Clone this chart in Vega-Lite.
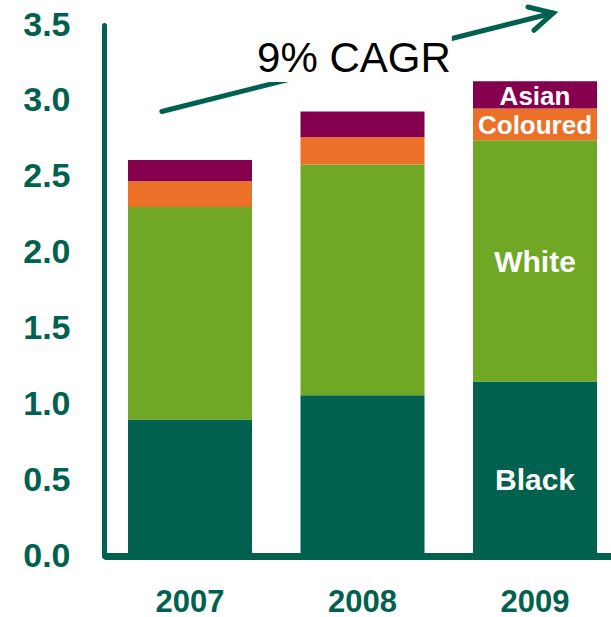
{
  "$schema": "https://vega.github.io/schema/vega-lite/v6.json",
  "width": 507,
  "height": 531,
  "autosize": {"type": "none"},
  "padding": {"left": 104, "top": 25, "right": 0, "bottom": 61},
  "background": "white",
  "config": {"view": {"stroke": null}, "font": "Liberation Sans"},
  "datasets": {
    "pop": [
      {"Year": "2007", "Race": "Black", "Value": 0.90, "Order": 1},
      {"Year": "2007", "Race": "White", "Value": 1.40, "Order": 2},
      {"Year": "2007", "Race": "Coloured", "Value": 0.17, "Order": 3},
      {"Year": "2007", "Race": "Asian", "Value": 0.14, "Order": 4},
      {"Year": "2008", "Race": "Black", "Value": 1.06, "Order": 1},
      {"Year": "2008", "Race": "White", "Value": 1.52, "Order": 2},
      {"Year": "2008", "Race": "Coloured", "Value": 0.18, "Order": 3},
      {"Year": "2008", "Race": "Asian", "Value": 0.17, "Order": 4},
      {"Year": "2009", "Race": "Black", "Value": 1.15, "Order": 1},
      {"Year": "2009", "Race": "White", "Value": 1.59, "Order": 2},
      {"Year": "2009", "Race": "Coloured", "Value": 0.21, "Order": 3},
      {"Year": "2009", "Race": "Asian", "Value": 0.18, "Order": 4}
    ],
    "arrow": [{"x": 0.114, "y": 2.93, "x2": 0.886, "y2": 3.579}],
    "note": [{"x": 0.493, "y": 3.276, "label": "9% CAGR", "bx": 0.298, "bx2": 0.686, "by": 3.125, "by2": 3.428}]
  },
  "layer": [
    {
      "data": {"name": "pop"},
      "mark": {"type": "bar"},
      "encoding": {
        "x": {
          "field": "Year", "type": "nominal", "sort": null,
          "scale": {"type": "band", "domain": ["2007", "2008", "2009"], "paddingInner": 0.281, "paddingOuter": 0.11, "align": 0.632},
          "axis": {
            "title": null, "labelAngle": 0, "labelFont": "Liberation Sans",
            "labelFontWeight": "bold", "labelFontSize": 31, "labelColor": "#00614f",
            "labelPadding": 31, "ticks": false, "tickSize": 0, "grid": false,
            "domainColor": "#00614f", "domainWidth": 7, "zindex": 1
          }
        },
        "y": {
          "field": "Value", "type": "quantitative", "stack": "zero",
          "scale": {"domain": [0, 3.5], "nice": false},
          "axis": {
            "title": null, "values": [0, 0.5, 1, 1.5, 2, 2.5, 3, 3.5], "format": ".1f",
            "labelFont": "Liberation Sans", "labelFontSize": 34, "labelFontWeight": "bold",
            "labelColor": "#00614f", "labelPadding": 34, "ticks": false, "tickSize": 0,
            "grid": false, "domainColor": "#00614f", "domainWidth": 5, "domainCap": "round"
          }
        },
        "color": {
          "field": "Race", "type": "nominal",
          "scale": {"domain": ["Black", "White", "Coloured", "Asian"], "range": ["#00614f", "#70a826", "#eb7128", "#84004f"]},
          "legend": null
        },
        "order": {"field": "Order", "type": "quantitative"}
      }
    },
    {
      "data": {"name": "pop"},
      "transform": [{"filter": "datum.Year == '2009'"}],
      "mark": {"type": "text", "align": "center", "baseline": "middle", "color": "white", "fontWeight": "bold", "font": "Liberation Sans", "dy": 2},
      "encoding": {
        "x": {"field": "Year", "type": "nominal", "sort": null, "bandPosition": 0.5, "scale": {"type": "band", "domain": ["2007", "2008", "2009"], "paddingInner": 0.281, "paddingOuter": 0.11, "align": 0.632}, "axis": null},
        "y": {"field": "Value", "type": "quantitative", "stack": "zero", "bandPosition": 0.5, "scale": {"domain": [0, 3.5], "nice": false}, "axis": null},
        "detail": {"field": "Race"},
        "order": {"field": "Order", "type": "quantitative"},
        "text": {"condition": {"test": "datum.Race != 'Black'", "field": "Race"}, "value": ""},
        "size": {"condition": {"test": "datum.Race == 'Asian' || datum.Race == 'Coloured'", "value": 26}, "value": 30}
      }
    },
    {
      "data": {"name": "pop"},
      "transform": [{"filter": "datum.Year == '2009'"}],
      "mark": {"type": "text", "align": "center", "baseline": "middle", "color": "white", "fontWeight": "bold", "font": "Liberation Sans", "fontSize": 30, "dy": 12},
      "encoding": {
        "x": {"field": "Year", "type": "nominal", "sort": null, "bandPosition": 0.5, "scale": {"type": "band", "domain": ["2007", "2008", "2009"], "paddingInner": 0.281, "paddingOuter": 0.11, "align": 0.632}, "axis": null},
        "y": {"field": "Value", "type": "quantitative", "stack": "zero", "bandPosition": 0.5, "scale": {"domain": [0, 3.5], "nice": false}, "axis": null},
        "detail": {"field": "Race"},
        "order": {"field": "Order", "type": "quantitative"},
        "text": {"condition": {"test": "datum.Race == 'Black'", "field": "Race"}, "value": ""}
      }
    },
    {
      "data": {"name": "arrow"},
      "mark": {"type": "rule", "strokeWidth": 5, "strokeCap": "round", "color": "#00614f"},
      "encoding": {
        "x": {"field": "x", "type": "quantitative", "scale": {"domain": [0, 1], "nice": false}, "axis": null},
        "y": {"field": "y", "type": "quantitative", "scale": {"domain": [0, 3.5], "nice": false}, "axis": null},
        "x2": {"field": "x2"},
        "y2": {"field": "y2"}
      }
    },
    {
      "data": {"name": "arrow"},
      "mark": {"type": "point", "shape": "M-2,-1.05L0,0L-2,1.05", "filled": false, "size": 529, "strokeWidth": 5, "strokeCap": "round", "strokeJoin": "miter", "angle": 345.8, "color": "#00614f", "opacity": 1},
      "encoding": {
        "x": {"field": "x2", "type": "quantitative", "scale": {"domain": [0, 1], "nice": false}, "axis": null},
        "y": {"field": "y2", "type": "quantitative", "scale": {"domain": [0, 3.5], "nice": false}, "axis": null}
      }
    },
    {
      "data": {"name": "note"},
      "mark": {"type": "rect", "color": "white", "opacity": 1},
      "encoding": {
        "x": {"field": "bx", "type": "quantitative", "scale": {"domain": [0, 1], "nice": false}, "axis": null},
        "x2": {"field": "bx2"},
        "y": {"field": "by", "type": "quantitative", "scale": {"domain": [0, 3.5], "nice": false}, "axis": null},
        "y2": {"field": "by2"}
      }
    },
    {
      "data": {"name": "note"},
      "mark": {"type": "text", "fontSize": 42, "font": "Liberation Sans", "color": "black", "align": "center", "baseline": "middle"},
      "encoding": {
        "x": {"field": "x", "type": "quantitative", "scale": {"domain": [0, 1], "nice": false}, "axis": null},
        "y": {"field": "y", "type": "quantitative", "scale": {"domain": [0, 3.5], "nice": false}, "axis": null},
        "text": {"field": "label"}
      }
    }
  ],
  "resolve": {"scale": {"x": "independent", "y": "independent"}}
}
